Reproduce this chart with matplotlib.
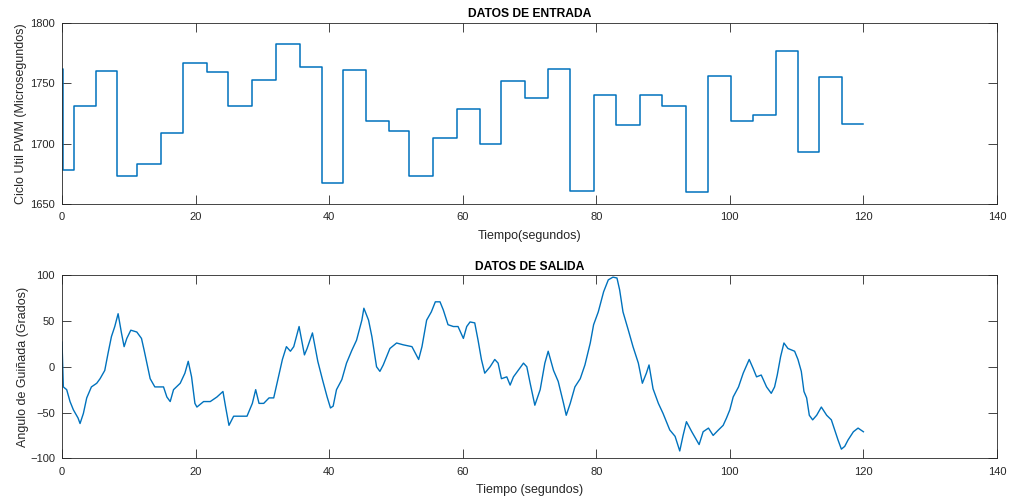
import numpy as np
import matplotlib
matplotlib.use("Agg")
import matplotlib.pyplot as plt

plt.rcParams['font.family'] = ['Liberation Sans', 'DejaVu Sans']

# Entrada: instantes de cambio (s) y nivel PWM de cada tramo (us)
t_cambios = [0, 0.1, 1.8, 5.1, 8.2, 11.3, 14.8, 18.1, 21.7, 24.9,
             28.4, 32.0, 35.6, 38.9, 42.1, 45.5, 48.9, 52.0, 55.5, 59.1,
             62.6, 65.7, 69.3, 72.7, 76.1, 79.6, 83.0, 86.5, 89.9, 93.4,
             96.8, 100.2, 103.5, 106.9, 110.2, 113.4, 116.8, 120.0]
pwm_niveles = [1762, 1678, 1731, 1760, 1673, 1683, 1709, 1767, 1759, 1731,
               1753, 1782, 1763, 1667, 1761, 1719, 1710, 1673, 1705, 1729,
               1700, 1752, 1738, 1762, 1661, 1740, 1715, 1740, 1731, 1660,
               1756, 1719, 1724, 1777, 1693, 1755, 1716]

# Salida: angulo de guinada (grados)
t_salida = [0, 0.2, 0.7, 1.2, 1.7, 2.4, 2.7, 3.2, 3.7, 4.4, 5.2, 5.7, 6.4, 6.9,
            7.4, 7.9, 8.4, 8.9, 9.3, 9.7, 10.3, 11.2, 11.9, 12.3, 12.7, 13.2,
            13.9, 15.2, 15.7, 16.2, 16.7, 17.7, 18.4, 18.9, 19.4, 19.9, 20.2,
            21.2, 22.2, 23.2, 24.1, 24.5, 25.0, 25.7, 26.7, 27.7, 28.5, 29.0,
            29.5, 30.2, 31.0, 31.7, 32.2, 33.0, 33.6, 34.2, 34.7, 35.5, 36.3,
            36.7, 37.5, 38.3, 39.0, 39.7, 40.2, 40.6, 41.1, 41.9, 42.6, 43.4,
            44.1, 44.9, 45.2, 45.9, 46.4, 47.1, 47.6, 48.1, 49.1, 50.1, 51.1,
            52.4, 53.4, 53.9, 54.6, 55.3, 55.9, 56.6, 57.1, 57.8, 58.6, 59.3,
            60.1, 60.6, 61.1, 61.8, 62.3, 62.8, 63.3, 64.1, 64.8, 65.3, 65.8,
            66.6, 67.1, 67.6, 68.3, 69.1, 69.6, 70.1, 70.8, 71.6, 72.3, 72.8,
            73.6, 74.3, 75.1, 75.5, 76.1, 76.8, 77.6, 78.3, 79.1, 79.6, 80.3,
            81.1, 81.8, 82.5, 83.1, 83.5, 84.0, 84.8, 85.5, 86.3, 86.9, 87.5,
            87.9, 88.5, 89.3, 90.0, 90.5, 91.0, 91.8, 92.5, 93.0, 93.5, 94.3,
            95.0, 95.4, 96.0, 96.8, 97.5, 98.3, 99.0, 99.5, 100.0, 100.5,
            101.3, 102.0, 102.9, 103.5, 104.0, 104.7, 105.5, 106.2, 106.7,
            107.1, 107.6, 108.1, 108.7, 109.7, 110.2, 110.7, 111.1, 111.5,
            111.9, 112.4, 113.0, 113.7, 114.5, 115.2, 115.7, 116.2, 116.7,
            117.2, 117.7, 118.5, 119.2, 120.0]
angulo = [27, -22, -25, -38, -47, -56, -62, -51, -34, -22, -18, -13, -4, 15,
          33, 44, 58, 37, 22, 31, 40, 38, 31, 18, 4, -13,
          -22, -22, -33, -38, -25, -18, -7, 6, -11, -40, -44,
          -38, -38, -33, -27, -44, -64, -54, -54, -54, -40, -25,
          -40, -40, -34, -34, -18, 8, 22, 17, 22, 44, 13,
          20, 37, 6, -14, -33, -45, -43, -25, -14, 4, 18,
          29, 51, 64, 51, 33, 0, -5, 2, 20, 26, 24,
          22, 8, 22, 51, 60, 71, 71, 62, 46, 44, 44,
          31, 44, 49, 48, 29, 8, -7, 0, 8, 4, -13,
          -11, -20, -11, -4, 4, 0, -18, -42, -25, 4, 17,
          -4, -16, -40, -53, -40, -22, -13, 2, 26, 46, 60,
          82, 95, 98, 97, 84, 60, 40, 22, 4, -18, -7,
          2, -24, -40, -51, -60, -69, -76, -92, -75, -60, -71,
          -80, -85, -71, -67, -75, -69, -64, -56, -47, -33,
          -22, -7, 8, -2, -11, -9, -22, -29, -22,
          -9, 11, 26, 20, 17, 8, -5, -27, -34,
          -53, -58, -53, -44, -53, -58, -69, -80, -90,
          -87, -80, -71, -67, -71]

azul = '#0072BD'
gris = '#262626'

fig = plt.figure(figsize=(10.1, 4.97), dpi=100)
ax1 = fig.add_axes([0.0614, 0.5895, 0.9257, 0.3648])
ax2 = fig.add_axes([0.0614, 0.0779, 0.9257, 0.3682])

# escalones de la entrada
ax1.step(t_cambios, pwm_niveles + [pwm_niveles[-1]], where='post',
         color=azul, linewidth=1.1)
ax2.plot(t_salida, angulo, color=azul, linewidth=1.0)

ax1.set_ylim(1650, 1800)
ax1.set_yticks([1650, 1700, 1750, 1800])
ax2.set_ylim(-100, 100)
ax2.set_yticks([-100, -50, 0, 50, 100])

for ax in (ax1, ax2):
    ax.set_xlim(0, 140)
    ax.set_xticks(np.arange(0, 141, 20))
    ax.tick_params(direction='in', top=True, right=True, length=6.7,
                   width=0.6, labelsize=8, colors=gris)
    ax.tick_params(axis='x', pad=6)
    ax.tick_params(axis='y', pad=5)
    for s in ax.spines.values():
        s.set_color(gris)
        s.set_linewidth(0.6)

ax1.set_title('DATOS DE ENTRADA', fontsize=8.7, fontweight='bold', pad=4)
ax1.set_xlabel('Tiempo(segundos)', fontsize=9, color=gris, labelpad=5.5)
ax1.set_ylabel('Ciclo Util PWM (Microsegundos)', fontsize=9, color=gris,
               labelpad=2.5)

ax2.set_title('DATOS DE SALIDA', fontsize=8.7, fontweight='bold', pad=4)
ax2.set_xlabel('Tiempo (segundos)', fontsize=9, color=gris, labelpad=5.5)
ax2.set_ylabel('Angulo de Guiñada (Grados)', fontsize=9, color=gris,
               labelpad=0.5)

fig.savefig('out.png', dpi=100)
